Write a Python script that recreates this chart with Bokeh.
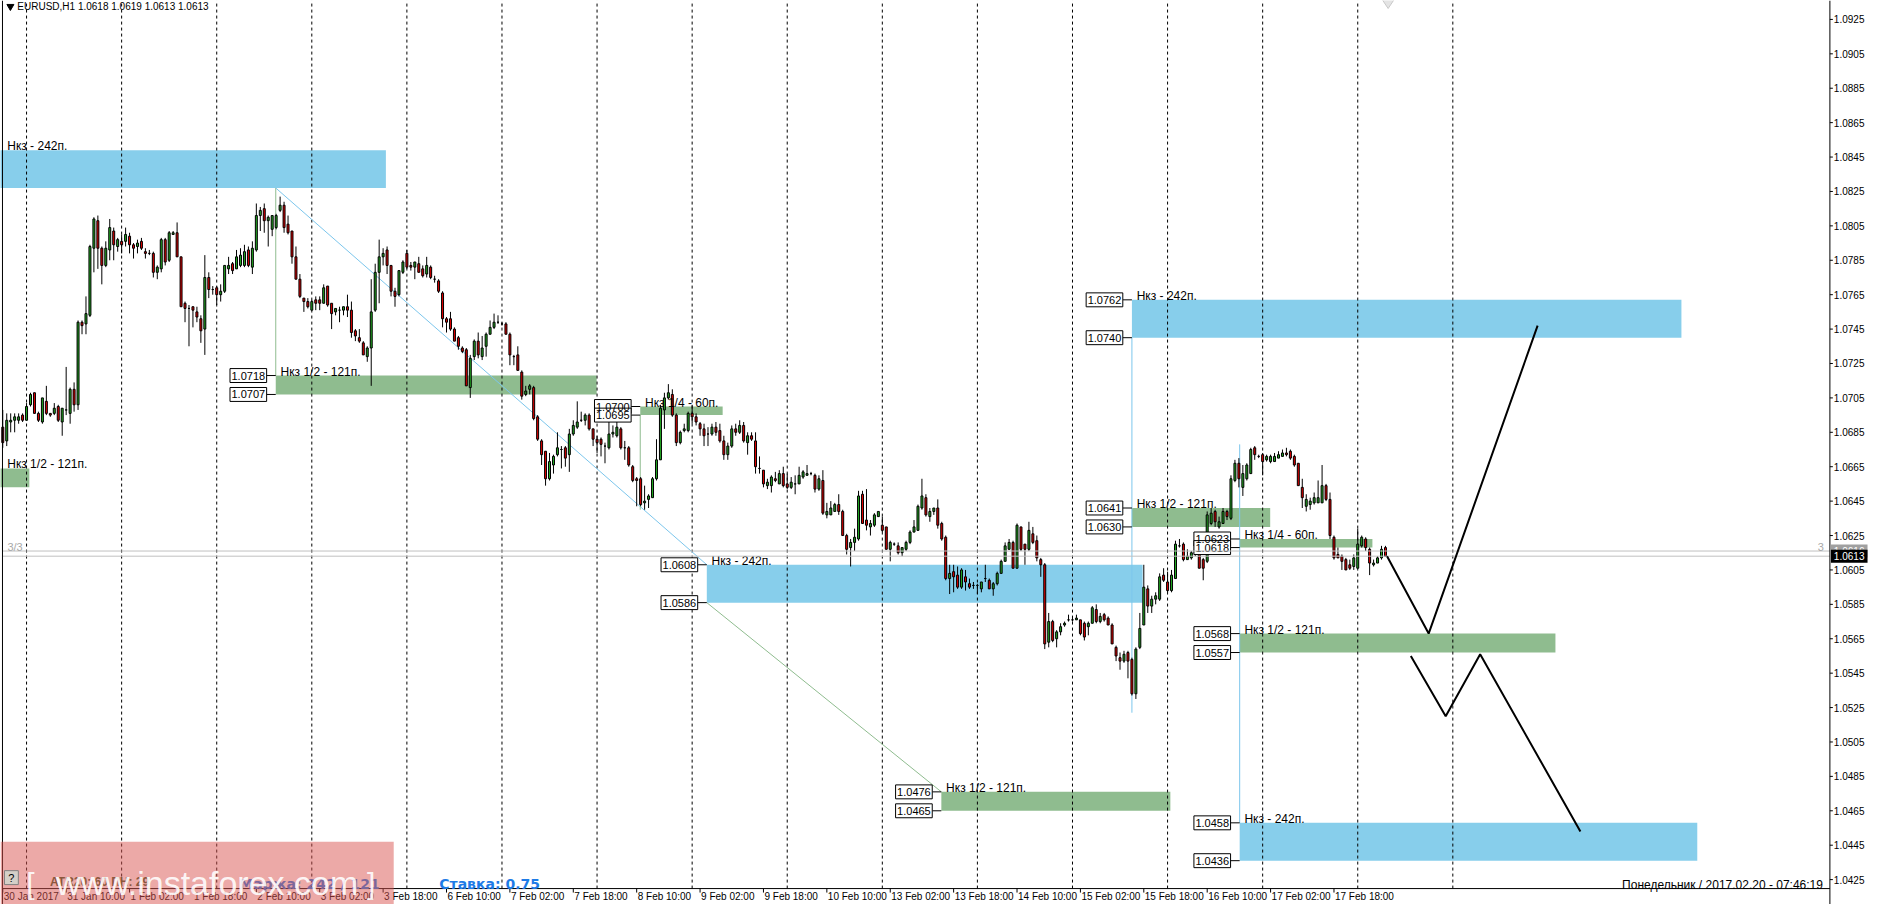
from bokeh.plotting import figure
from bokeh.models import Range1d, ColumnDataSource
from bokeh.core.properties import value
from bokeh.embed import file_html
from bokeh.resources import INLINE

# ---------------- data: EURUSD H1 candles (bar 0 = 30 Jan 2017 18:00) ----------------
open_ = [
 1.0688,1.0680,1.0691,1.0692,1.0692,1.0695,1.0692,1.0701,1.0708,1.0696,
 1.0691,1.0703,1.0696,1.0696,1.0700,1.0691,1.0698,1.0696,1.0710,1.0701,
 1.0749,1.0748,1.0753,1.0792,1.0808,1.0792,1.0782,1.0791,1.0802,1.0793,
 1.0796,1.0796,1.0799,1.0794,1.0793,1.0796,1.0790,1.0789,1.0789,1.0778,
 1.0780,1.0797,1.0785,1.0800,1.0801,1.0787,1.0760,1.0757,1.0758,1.0755,
 1.0751,1.0745,1.0775,1.0768,1.0769,1.0765,1.0767,1.0780,1.0783,1.0780,
 1.0782,1.0782,1.0791,1.0781,1.0791,1.0811,1.0815,1.0808,1.0803,1.0804,
 1.0814,1.0817,1.0806,1.0802,1.0787,1.0774,1.0763,1.0761,1.0756,1.0762,
 1.0762,1.0760,1.0770,1.0760,1.0755,1.0756,1.0756,1.0758,1.0756,1.0744,
 1.0740,1.0737,1.0729,1.0734,1.0756,1.0778,1.0787,1.0791,1.0782,1.0767,
 1.0765,1.0778,1.0789,1.0782,1.0781,1.0783,1.0780,1.0777,1.0781,1.0774,
 1.0773,1.0766,1.0751,1.0751,1.0745,1.0740,1.0734,1.0733,1.0711,1.0729,
 1.0738,1.0729,1.0735,1.0742,1.0746,1.0749,1.0748,1.0748,1.0742,1.0729,
 1.0730,1.0720,1.0707,1.0710,1.0711,1.0694,1.0680,1.0674,1.0658,1.0666,
 1.0672,1.0675,1.0676,1.0672,1.0684,1.0688,1.0692,1.0692,1.0695,1.0687,
 1.0681,1.0681,1.0677,1.0676,1.0684,1.0683,1.0687,1.0676,1.0676,1.0665,
 1.0658,1.0658,1.0644,1.0646,1.0647,1.0658,1.0669,1.0698,1.0705,1.0707,
 1.0695,1.0679,1.0686,1.0686,1.0696,1.0694,1.0690,1.0687,1.0684,1.0684,
 1.0688,1.0686,1.0680,1.0672,1.0677,1.0687,1.0685,1.0689,1.0679,1.0683,
 1.0680,1.0664,1.0663,1.0654,1.0654,1.0658,1.0655,1.0661,1.0655,1.0653,
 1.0655,1.0655,1.0659,1.0660,1.0661,1.0660,1.0652,1.0657,1.0637,1.0637,
 1.0639,1.0643,1.0639,1.0625,1.0618,1.0621,1.0623,1.0649,1.0634,1.0630,
 1.0631,1.0636,1.0631,1.0630,1.0617,1.0620,1.0619,1.0615,1.0617,1.0621,
 1.0627,1.0628,1.0641,1.0647,1.0636,1.0639,1.0641,1.0632,1.0624,1.0600,
 1.0604,1.0602,1.0595,1.0601,1.0597,1.0596,1.0596,1.0594,1.0600,1.0599,
 1.0594,1.0597,1.0603,1.0610,1.0617,1.0621,1.0606,1.0630,1.0620,1.0617,
 1.0626,1.0622,1.0611,1.0608,1.0563,1.0575,1.0565,1.0569,1.0573,1.0576,
 1.0576,1.0576,1.0576,1.0574,1.0572,1.0574,1.0582,1.0575,1.0579,1.0577,
 1.0573,1.0560,1.0554,1.0552,1.0557,1.0553,1.0533,1.0560,1.0573,1.0594,
 1.0584,1.0588,1.0588,1.0602,1.0598,1.0593,1.0600,1.0619,1.0620,1.0611,
 1.0612,1.0614,1.0616,1.0611,1.0610,1.0632,1.0639,1.0630,1.0632,1.0639,
 1.0635,1.0657,1.0667,1.0653,1.0658,1.0661,1.0676,1.0671,1.0672,1.0669,
 1.0668,1.0668,1.0670,1.0671,1.0673,1.0674,1.0671,1.0667,1.0653,1.0642,
 1.0643,1.0644,1.0644,1.0644,1.0654,1.0646,1.0624,1.0614,1.0613,1.0611,
 1.0608,1.0607,1.0606,1.0619,1.0623,1.0617,1.0608,1.0609,1.0612,1.0618]
high = [
 1.0698,1.0696,1.0696,1.0696,1.0696,1.0696,1.0702,1.0708,1.0708,1.0697,
 1.0705,1.0712,1.0696,1.0702,1.0701,1.0699,1.0723,1.0711,1.0714,1.0750,
 1.0750,1.0764,1.0794,1.0810,1.0811,1.0793,1.0796,1.0809,1.0804,1.0798,
 1.0800,1.0804,1.0801,1.0795,1.0797,1.0798,1.0792,1.0791,1.0790,1.0782,
 1.0798,1.0798,1.0802,1.0802,1.0807,1.0787,1.0761,1.0759,1.0758,1.0758,
 1.0753,1.0788,1.0778,1.0770,1.0770,1.0771,1.0782,1.0787,1.0784,1.0791,
 1.0792,1.0794,1.0793,1.0796,1.0818,1.0816,1.0818,1.0811,1.0811,1.0812,
 1.0822,1.0819,1.0811,1.0802,1.0793,1.0777,1.0763,1.0763,1.0762,1.0764,
 1.0764,1.0771,1.0770,1.0760,1.0757,1.0758,1.0758,1.0765,1.0761,1.0745,
 1.0745,1.0738,1.0735,1.0774,1.0783,1.0797,1.0792,1.0793,1.0782,1.0769,
 1.0779,1.0785,1.0791,1.0784,1.0784,1.0787,1.0782,1.0787,1.0782,1.0776,
 1.0774,1.0767,1.0752,1.0755,1.0746,1.0741,1.0735,1.0734,1.0730,1.0739,
 1.0743,1.0741,1.0743,1.0750,1.0754,1.0753,1.0749,1.0749,1.0743,1.0730,
 1.0735,1.0721,1.0712,1.0713,1.0712,1.0695,1.0681,1.0674,1.0673,1.0672,
 1.0685,1.0677,1.0677,1.0687,1.0692,1.0703,1.0697,1.0696,1.0696,1.0687,
 1.0683,1.0682,1.0679,1.0691,1.0689,1.0691,1.0688,1.0680,1.0677,1.0666,
 1.0659,1.0659,1.0654,1.0649,1.0659,1.0681,1.0701,1.0708,1.0713,1.0710,
 1.0696,1.0686,1.0690,1.0697,1.0701,1.0696,1.0691,1.0690,1.0688,1.0690,
 1.0691,1.0690,1.0683,1.0679,1.0689,1.0690,1.0692,1.0691,1.0685,1.0685,
 1.0685,1.0671,1.0663,1.0658,1.0660,1.0662,1.0663,1.0665,1.0661,1.0659,
 1.0660,1.0665,1.0663,1.0666,1.0662,1.0661,1.0660,1.0663,1.0644,1.0645,
 1.0644,1.0649,1.0640,1.0626,1.0623,1.0629,1.0651,1.0651,1.0652,1.0634,
 1.0638,1.0639,1.0636,1.0630,1.0622,1.0621,1.0621,1.0618,1.0622,1.0628,
 1.0634,1.0643,1.0658,1.0649,1.0641,1.0641,1.0646,1.0633,1.0625,1.0608,
 1.0608,1.0607,1.0606,1.0605,1.0600,1.0598,1.0597,1.0598,1.0608,1.0600,
 1.0598,1.0604,1.0611,1.0621,1.0623,1.0622,1.0632,1.0630,1.0620,1.0633,
 1.0630,1.0625,1.0612,1.0609,1.0580,1.0576,1.0570,1.0574,1.0575,1.0579,
 1.0578,1.0579,1.0576,1.0575,1.0575,1.0584,1.0585,1.0580,1.0580,1.0578,
 1.0574,1.0561,1.0557,1.0558,1.0558,1.0554,1.0560,1.0580,1.0608,1.0596,
 1.0590,1.0592,1.0603,1.0606,1.0604,1.0605,1.0622,1.0623,1.0621,1.0617,
 1.0616,1.0621,1.0617,1.0612,1.0639,1.0641,1.0640,1.0636,1.0641,1.0640,
 1.0660,1.0669,1.0670,1.0666,1.0667,1.0676,1.0677,1.0672,1.0673,1.0672,
 1.0672,1.0673,1.0674,1.0675,1.0676,1.0675,1.0672,1.0667,1.0658,1.0649,
 1.0647,1.0650,1.0657,1.0666,1.0655,1.0650,1.0625,1.0618,1.0614,1.0612,
 1.0611,1.0614,1.0629,1.0625,1.0624,1.0618,1.0611,1.0613,1.0619,1.0619]
low = [
 1.0676,1.0677,1.0685,1.0685,1.0690,1.0691,1.0692,1.0700,1.0696,1.0691,
 1.0690,1.0695,1.0694,1.0695,1.0691,1.0683,1.0695,1.0690,1.0697,1.0698,
 1.0742,1.0742,1.0752,1.0778,1.0780,1.0771,1.0781,1.0785,1.0785,1.0790,
 1.0789,1.0793,1.0789,1.0786,1.0789,1.0791,1.0786,1.0788,1.0775,1.0774,
 1.0778,1.0782,1.0784,1.0800,1.0787,1.0758,1.0749,1.0735,1.0746,1.0749,
 1.0737,1.0730,1.0763,1.0765,1.0759,1.0761,1.0766,1.0777,1.0777,1.0780,
 1.0781,1.0781,1.0781,1.0777,1.0790,1.0802,1.0801,1.0793,1.0799,1.0803,
 1.0813,1.0801,1.0800,1.0783,1.0774,1.0763,1.0755,1.0757,1.0756,1.0756,
 1.0756,1.0760,1.0758,1.0745,1.0753,1.0749,1.0753,1.0752,1.0740,1.0738,
 1.0737,1.0730,1.0726,1.0712,1.0755,1.0760,1.0782,1.0777,1.0764,1.0758,
 1.0764,1.0777,1.0780,1.0779,1.0774,1.0778,1.0775,1.0775,1.0774,1.0772,
 1.0766,1.0746,1.0743,1.0744,1.0738,1.0733,1.0731,1.0712,1.0705,1.0727,
 1.0728,1.0727,1.0729,1.0742,1.0745,1.0748,1.0747,1.0742,1.0724,1.0724,
 1.0721,1.0704,1.0706,1.0707,1.0692,1.0680,1.0666,1.0654,1.0657,1.0661,
 1.0671,1.0664,1.0665,1.0662,1.0683,1.0687,1.0691,1.0689,1.0686,1.0677,
 1.0673,1.0671,1.0667,1.0675,1.0682,1.0682,1.0675,1.0669,1.0665,1.0656,
 1.0642,1.0642,1.0640,1.0641,1.0647,1.0657,1.0669,1.0687,1.0704,1.0694,
 1.0677,1.0678,1.0685,1.0685,1.0690,1.0689,1.0683,1.0677,1.0677,1.0683,
 1.0683,1.0679,1.0669,1.0669,1.0676,1.0683,1.0684,1.0679,1.0672,1.0680,
 1.0661,1.0661,1.0653,1.0652,1.0650,1.0656,1.0655,1.0653,1.0652,1.0652,
 1.0649,1.0655,1.0658,1.0660,1.0660,1.0650,1.0651,1.0637,1.0635,1.0637,
 1.0639,1.0637,1.0625,1.0614,1.0607,1.0616,1.0622,1.0632,1.0628,1.0625,
 1.0630,1.0636,1.0627,1.0617,1.0610,1.0619,1.0614,1.0613,1.0616,1.0620,
 1.0627,1.0628,1.0640,1.0636,1.0633,1.0637,1.0629,1.0622,1.0599,1.0591,
 1.0592,1.0594,1.0594,1.0593,1.0594,1.0594,1.0591,1.0592,1.0598,1.0594,
 1.0590,1.0596,1.0603,1.0610,1.0617,1.0606,1.0606,1.0616,1.0608,1.0616,
 1.0620,1.0610,1.0601,1.0559,1.0560,1.0563,1.0560,1.0567,1.0572,1.0575,
 1.0575,1.0576,1.0567,1.0564,1.0567,1.0574,1.0574,1.0574,1.0575,1.0573,
 1.0562,1.0552,1.0547,1.0551,1.0542,1.0532,1.0530,1.0559,1.0573,1.0580,
 1.0580,1.0585,1.0587,1.0598,1.0592,1.0592,1.0600,1.0618,1.0610,1.0611,
 1.0611,1.0613,1.0606,1.0599,1.0609,1.0631,1.0630,1.0629,1.0632,1.0634,
 1.0634,1.0656,1.0653,1.0648,1.0657,1.0661,1.0669,1.0670,1.0660,1.0668,
 1.0667,1.0668,1.0670,1.0671,1.0671,1.0669,1.0665,1.0654,1.0641,1.0639,
 1.0640,1.0643,1.0644,1.0644,1.0645,1.0623,1.0611,1.0612,1.0605,1.0605,
 1.0605,1.0605,1.0606,1.0618,1.0616,1.0602,1.0607,1.0609,1.0611,1.0613]
close_ = [
 1.0679,1.0692,1.0692,1.0694,1.0694,1.0692,1.0700,1.0707,1.0696,1.0692,
 1.0705,1.0696,1.0695,1.0699,1.0692,1.0699,1.0698,1.0710,1.0701,1.0749,
 1.0747,1.0754,1.0793,1.0809,1.0792,1.0782,1.0792,1.0804,1.0794,1.0797,
 1.0794,1.0800,1.0794,1.0792,1.0795,1.0792,1.0789,1.0789,1.0778,1.0781,
 1.0797,1.0784,1.0801,1.0801,1.0787,1.0758,1.0757,1.0757,1.0756,1.0752,
 1.0744,1.0775,1.0768,1.0768,1.0765,1.0767,1.0782,1.0782,1.0779,1.0787,
 1.0788,1.0790,1.0782,1.0792,1.0811,1.0814,1.0808,1.0810,1.0811,1.0811,
 1.0817,1.0804,1.0801,1.0787,1.0774,1.0764,1.0761,1.0758,1.0761,1.0760,
 1.0760,1.0769,1.0759,1.0754,1.0757,1.0756,1.0758,1.0756,1.0743,1.0741,
 1.0738,1.0730,1.0734,1.0755,1.0778,1.0787,1.0789,1.0782,1.0767,1.0764,
 1.0779,1.0784,1.0781,1.0781,1.0784,1.0778,1.0776,1.0782,1.0775,1.0774,
 1.0767,1.0751,1.0749,1.0745,1.0738,1.0735,1.0732,1.0712,1.0728,1.0738,
 1.0730,1.0734,1.0742,1.0746,1.0749,1.0749,1.0748,1.0742,1.0730,1.0729,
 1.0721,1.0706,1.0709,1.0712,1.0693,1.0681,1.0672,1.0658,1.0668,1.0671,
 1.0676,1.0675,1.0670,1.0684,1.0689,1.0691,1.0692,1.0695,1.0687,1.0681,
 1.0679,1.0678,1.0677,1.0684,1.0685,1.0688,1.0676,1.0676,1.0666,1.0657,
 1.0657,1.0643,1.0645,1.0648,1.0658,1.0669,1.0699,1.0705,1.0708,1.0695,
 1.0679,1.0685,1.0687,1.0696,1.0694,1.0691,1.0687,1.0683,1.0684,1.0688,
 1.0685,1.0680,1.0672,1.0677,1.0687,1.0685,1.0689,1.0680,1.0683,1.0681,
 1.0665,1.0664,1.0655,1.0656,1.0659,1.0657,1.0661,1.0654,1.0653,1.0656,
 1.0655,1.0660,1.0662,1.0661,1.0661,1.0652,1.0658,1.0638,1.0639,1.0641,
 1.0643,1.0639,1.0625,1.0617,1.0621,1.0624,1.0648,1.0632,1.0631,1.0632,
 1.0637,1.0639,1.0628,1.0617,1.0621,1.0620,1.0615,1.0618,1.0621,1.0627,
 1.0630,1.0642,1.0648,1.0637,1.0639,1.0641,1.0631,1.0623,1.0600,1.0603,
 1.0601,1.0595,1.0605,1.0598,1.0595,1.0596,1.0596,1.0598,1.0600,1.0594,
 1.0597,1.0603,1.0610,1.0619,1.0621,1.0606,1.0631,1.0617,1.0617,1.0628,
 1.0621,1.0612,1.0608,1.0562,1.0575,1.0564,1.0569,1.0572,1.0574,1.0576,
 1.0576,1.0577,1.0568,1.0566,1.0574,1.0583,1.0575,1.0578,1.0576,1.0573,
 1.0562,1.0555,1.0552,1.0556,1.0552,1.0533,1.0559,1.0571,1.0595,1.0584,
 1.0588,1.0590,1.0601,1.0599,1.0593,1.0602,1.0620,1.0619,1.0611,1.0613,
 1.0615,1.0620,1.0606,1.0606,1.0637,1.0638,1.0633,1.0633,1.0639,1.0636,
 1.0658,1.0667,1.0658,1.0661,1.0666,1.0675,1.0672,1.0671,1.0668,1.0671,
 1.0671,1.0671,1.0672,1.0673,1.0672,1.0670,1.0666,1.0654,1.0647,1.0646,
 1.0645,1.0647,1.0647,1.0654,1.0646,1.0625,1.0612,1.0612,1.0610,1.0605,
 1.0606,1.0612,1.0620,1.0624,1.0618,1.0609,1.0609,1.0612,1.0617,1.0613]

time_labels = ["30 Jan 2017", "31 Jan 10:00", "1 Feb 02:00", "1 Feb 18:00", "2 Feb 10:00",
               "3 Feb 02:00", "3 Feb 18:00", "6 Feb 10:00", "7 Feb 02:00", "7 Feb 18:00",
               "8 Feb 10:00", "9 Feb 02:00", "9 Feb 18:00", "10 Feb 10:00", "13 Feb 02:00",
               "13 Feb 18:00", "14 Feb 10:00", "15 Feb 02:00", "15 Feb 18:00", "16 Feb 10:00",
               "17 Feb 02:00", "17 Feb 18:00"]
time_label_bars = [0, 16, 32, 48, 64, 80, 96, 112, 128, 144, 160, 176, 192, 208, 224,
                   240, 256, 272, 288, 304, 320, 336]
day_start_bars = [6, 30, 54, 78, 102, 126, 150, 174, 198, 222, 246, 270, 294, 318, 342, 366]
price_ticks = [1.0425, 1.0445, 1.0465, 1.0485, 1.0505, 1.0525, 1.0545, 1.0565, 1.0585,
               1.0605, 1.0625, 1.0645, 1.0665, 1.0685, 1.0705, 1.0725, 1.0745, 1.0765,
               1.0785, 1.0805, 1.0825, 1.0845, 1.0865, 1.0885, 1.0905, 1.0925]
price_tick_labels = ["1.0425", "1.0445", "1.0465", "1.0485", "1.0505", "1.0525", "1.0545",
                     "1.0565", "1.0585", "1.0605", "1.0625", "1.0645", "1.0665", "1.0685",
                     "1.0705", "1.0725", "1.0745", "1.0765", "1.0785", "1.0805", "1.0825",
                     "1.0845", "1.0865", "1.0885", "1.0905", "1.0925"]

# zones (rectangles) in bar / price units
zone_left   = [-5.0, -5.0, 68.9, 160.9, 177.7, 236.9, 285.0, 285.0, 312.2, 312.2, 312.2]
zone_right  = [96.7, 6.7, 149.9, 181.7, 287.7, 294.7, 423.7, 319.9, 345.7, 391.9, 427.7]
zone_bottom = [1.0827, 1.0653, 1.0707, 1.0695, 1.0586, 1.0465, 1.0740, 1.0630, 1.0618, 1.0557, 1.0436]
zone_top    = [1.0849, 1.0664, 1.0718, 1.0700, 1.0608, 1.0476, 1.0762, 1.0641, 1.0623, 1.0568, 1.0458]
zone_kind   = ["b", "g", "g", "g", "b", "g", "b", "g", "g", "g", "b"]
zone_text   = ["Нкз - 242п.", "Нкз 1/2 - 121п.", "Нкз 1/2 - 121п.", "Нкз 1/4 - 60п.",
               "Нкз - 242п.", "Нкз 1/2 - 121п.", "Нкз - 242п.", "Нкз 1/2 - 121п.",
               "Нкз 1/4 - 60п.", "Нкз 1/2 - 121п.", "Нкз - 242п."]

# guide lines (bar, price)
guide_x0 = [68.9, 68.9, 177.7, 160.9, 285.0, 312.2]
guide_y0 = [1.0827, 1.0827, 1.0586, 1.0695, 1.0740, 1.0678]
guide_x1 = [68.9, 177.7, 236.9, 160.9, 285.0, 312.2]
guide_y1 = [1.0718, 1.0608, 1.0476, 1.0640, 1.0522, 1.0458]
guide_kind = ["g", "c", "g", "g", "c", "c"]

# hand-drawn forecast paths
path_a_x = [349.4, 359.9, 387.4]
path_a_y = [1.0613, 1.0568, 1.0747]
path_b_x = [355.4, 364.2, 372.9, 398.2]
path_b_y = [1.0555, 1.0520, 1.0556, 1.0453]

bid, ask = 1.0613, 1.0616
title_text = "EURUSD,H1  1.0618 1.0619 1.0613 1.0613"

# ---------------- layout helpers (reference pixel -> data units) ----------------
def rx(px):
    return (px - 2.3) / 4.0

def ry(py):
    return 1.0925 - (py - 25.0) / 17280.0

FONT = "Liberation Sans"
BLUE = "#87CEEB"
GREEN = "#8FBC8F"
CYAN = "#7CC6EC"
UP = "#22A822"
DOWN = "#E00000"

x_left, x_axis = rx(2), rx(1847)
y_axis_line = ry(898)
y_top = ry(6)

p = figure(frame_width=1871, frame_height=904,
           x_range=Range1d(rx(0), rx(1889)), y_range=Range1d(ry(914), y_top),
           x_axis_location=None, y_axis_location=None,
           output_backend="svg", toolbar_location=None,
           min_border_left=0, min_border_right=0, min_border_top=0, min_border_bottom=0)
p.grid.visible = False
p.outline_line_color = None
p.background_fill_color = "white"
p.border_fill_color = "white"

# zones
zsrc = ColumnDataSource(dict(left=zone_left, right=zone_right, bottom=zone_bottom, top=zone_top,
                             color=[BLUE if k == "b" else GREEN for k in zone_kind]))
p.quad(left="left", right="right", bottom="bottom", top="top", fill_color="color",
       line_color=None, source=zsrc)

# day separators
p.segment(x0=day_start_bars, y0=[y_axis_line] * len(day_start_bars),
          x1=day_start_bars, y1=[y_top] * len(day_start_bars),
          line_color="black", line_width=1, line_dash="3 3")

# guide lines
p.segment(x0=guide_x0, y0=guide_y0, x1=guide_x1, y1=guide_y1,
          line_color=[CYAN if k == "c" else GREEN for k in guide_kind], line_width=1)

# candles
n = len(close_)
csrc = ColumnDataSource(dict(
    x=list(range(n)), h=high, l=low,
    top=[max(o, c) for o, c in zip(open_, close_)],
    bottom=[min(o, c) for o, c in zip(open_, close_)],
    color=[UP if c >= o else DOWN for o, c in zip(open_, close_)]))
p.segment(x0="x", y0="l", x1="x", y1="h", source=csrc, line_color="black", line_width=1)
p.vbar(x="x", width=0.5, top="top", bottom="bottom", fill_color="color",
       line_color="black", line_width=1, source=csrc)

# zone labels
lab_x = [max(l, x_left) + 1.2 for l in zone_left]
p.text(x=lab_x, y=zone_top, text=zone_text, text_font=value(FONT),
       text_font_size=value("12px"), text_color="black",
       text_baseline="alphabetic", y_offset=-4)

# price tags with connectors
TAG_W = 37 / 4.0
TAG_H = 7 / 17280.0
tag_r, tag_y, tag_t, con_x1 = [], [], [], []
for l, b, t in zip(zone_left, zone_bottom, zone_top):
    if l > 0:
        for v in (t, b):
            tag_r.append(l - 2.3)
            tag_y.append(v)
            tag_t.append(f"{v:.4f}")
            con_x1.append(l)
p.segment(x0=tag_r, y0=tag_y, x1=con_x1, y1=tag_y, line_color="black", line_width=1)
p.quad(left=[r - TAG_W for r in tag_r], right=tag_r,
       bottom=[v - TAG_H for v in tag_y], top=[v + TAG_H for v in tag_y],
       fill_color="white", line_color="black", line_width=1)
p.text(x=[r - TAG_W / 2 for r in tag_r], y=tag_y, text=tag_t, text_font=value(FONT),
       text_font_size=value("11px"), text_color="black", text_align="center",
       text_baseline="middle")

# bid / ask lines
p.segment(x0=[x_left, x_left], y0=[bid, ask], x1=[x_axis, x_axis], y1=[bid, ask],
          line_color="#C0C0C0", line_width=1)
p.text(x=[rx(7)], y=[ask], text=["3/3"], text_font=value(FONT), text_font_size=value("11px"),
       text_color="#A8A8A8", text_baseline="alphabetic", y_offset=-4)
p.text(x=[rx(1841)], y=[ask], text=["3"], text_font=value(FONT), text_font_size=value("11px"),
       text_color="#A8A8A8", text_baseline="alphabetic", text_align="right", y_offset=-4)

# forecast paths
p.multi_line(xs=[path_a_x, path_b_x], ys=[path_a_y, path_b_y], line_color="black", line_width=2)

# title
p.scatter(x=[rx(10)], y=[ry(12)], marker="inverted_triangle", size=7, color="black")
p.text(x=[rx(17)], y=[ry(12)], text=[title_text], text_font=value(FONT),
       text_font_size=value("10px"), text_color="black", text_baseline="middle")
p.scatter(x=[rx(1401)], y=[y_top], marker="diamond", size=16, fill_color="#E4E4E4",
          line_color="#C8C8C8")

# bottom time axis (drawn inside the frame)
p.segment(x0=[x_left], y0=[y_axis_line], x1=[x_axis], y1=[y_axis_line], line_color="black")
p.segment(x0=time_label_bars, y0=[y_axis_line] * len(time_label_bars),
          x1=time_label_bars, y1=[ry(902)] * len(time_label_bars), line_color="black")
p.text(x=time_label_bars, y=[ry(900)] * len(time_label_bars), text=time_labels,
       text_font=value(FONT), text_font_size=value("10px"), text_color="black",
       text_baseline="top", x_offset=1)
p.segment(x0=[x_left], y0=[y_top], x1=[x_left], y1=[ry(914)], line_color="black")

# right price axis (drawn inside the frame)
p.segment(x0=[x_axis], y0=[y_top], x1=[x_axis], y1=[ry(914)], line_color="black")
p.segment(x0=[x_axis] * len(price_ticks), y0=price_ticks,
          x1=[rx(1850)] * len(price_ticks), y1=price_ticks, line_color="black")
p.text(x=[rx(1851)] * len(price_ticks), y=price_ticks, text=price_tick_labels,
       text_font=value(FONT), text_font_size=value("10px"), text_color="black",
       text_baseline="middle")
p.quad(left=[rx(1848)], right=[rx(1885)], bottom=[ask - 6.5 / 17280], top=[ask + 6.5 / 17280],
       fill_color="#A0A0A0", line_color=None)
p.text(x=[rx(1851)], y=[ask], text=["1.0616"], text_font=value(FONT),
       text_font_size=value("10px"), text_color="white", text_baseline="middle")
p.quad(left=[rx(1848)], right=[rx(1885)], bottom=[bid - 6.5 / 17280], top=[bid + 6.5 / 17280],
       fill_color="black", line_color=None)
p.text(x=[rx(1851)], y=[bid], text=["1.0613"], text_font=value(FONT),
       text_font_size=value("10px"), text_color="white", text_baseline="middle")

# info texts
p.text(x=[rx(50)], y=[ry(891)], text=["ATR20: 60  ПН: 29"], text_font=value(FONT),
       text_font_style="bold", text_font_size=value("12px"), text_color="#3C5A2A",
       text_baseline="alphabetic")
p.text(x=[rx(241)], y=[ry(893)], text=["Маржа: 242 / 121"], text_font=value("DejaVu Sans"),
       text_font_style="bold", text_font_size=value("14px"), text_color="#1E7BE6",
       text_baseline="alphabetic")
p.text(x=[rx(443)], y=[ry(893)], text=["Ставка: 0.75"], text_font=value("DejaVu Sans"),
       text_font_style="bold", text_font_size=value("14px"), text_color="#1E7BE6",
       text_baseline="alphabetic")
p.text(x=[rx(1840)], y=[ry(894)], text=["Понедельник / 2017.02.20 - 07:46:19"],
       text_font=value(FONT), text_font_size=value("12px"), text_color="black",
       text_align="right", text_baseline="alphabetic")

# watermark
p.quad(left=[rx(0)], right=[rx(397)], bottom=[ry(914)], top=[ry(851)],
       fill_color="#D9534F", fill_alpha=0.5, line_color=None)
p.quad(left=[rx(4)], right=[rx(18)], bottom=[ry(894)], top=[ry(880)],
       fill_color="#D4D0C8", line_color="#808080")
p.text(x=[rx(11)], y=[ry(887)], text=["?"], text_font=value(FONT), text_font_size=value("11px"),
       text_color="black", text_align="center", text_baseline="middle")
p.text(x=[rx(56)], y=[ry(892)], text=["www.instaforex.com"], text_font=value(FONT),
       text_font_size=value("34px"), text_color="white", text_alpha=0.9,
       text_baseline="alphabetic")
p.text(x=[rx(26), rx(370)], y=[ry(893), ry(893)], text=["[", "]"], text_font=value(FONT),
       text_font_size=value("30px"), text_color="white", text_alpha=0.9,
       text_baseline="alphabetic")

html = file_html(p, INLINE, title="EURUSD H1")
open("out.html", "w").write(html)
